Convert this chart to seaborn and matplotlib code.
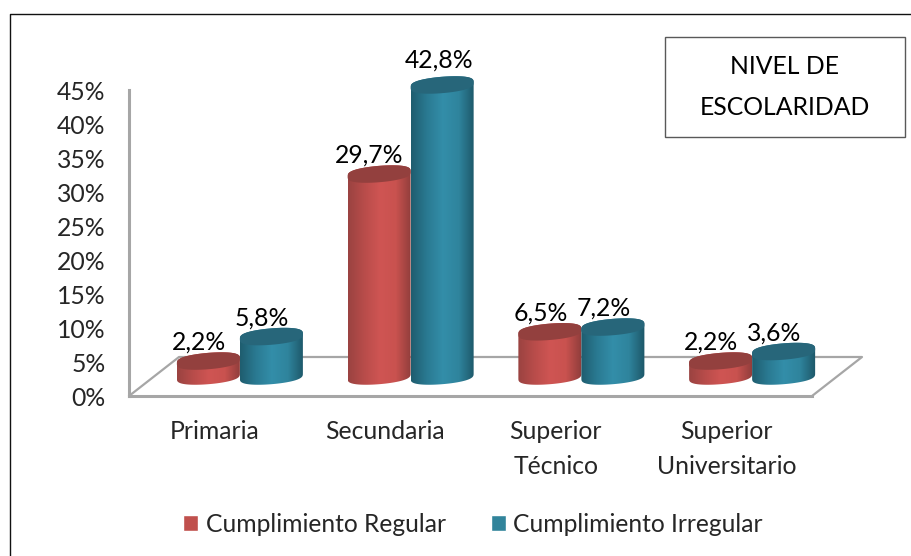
import numpy as np
import pandas as pd
import seaborn as sns
import matplotlib.pyplot as plt
from matplotlib.colors import LinearSegmentedColormap
from matplotlib.lines import Line2D
from matplotlib.patches import Polygon, Rectangle

niveles = ['Primaria', 'Secundaria', 'Superior\nTécnico', 'Superior\nUniversitario']
regular = [2.2, 29.7, 6.5, 2.2]
irregular = [5.8, 42.8, 7.2, 3.6]
series = ['Cumplimiento Regular', 'Cumplimiento Irregular']
yticks = [0, 5, 10, 15, 20, 25, 30, 35, 40, 45]

sns.set_theme(style='white')
plt.rcParams['font.family'] = ['Lato', 'DejaVu Sans']

W, H = 912, 556
PX_X = 683 / 4      # px per category
PX_Y = 306 / 45     # px per percent
GRIS = '#a6a6a6'
FS = 17.8

df = pd.DataFrame({
    'nivel': niveles * 2,
    'pct': regular + irregular,
    'serie': [series[0]] * 4 + [series[1]] * 4,
})

fig = plt.figure(figsize=(W / 100, H / 100), dpi=100)
ax = fig.add_axes([129 / W, 1 - 396 / H, 683 / W, 306 / H])
sns.barplot(df, x='nivel', y='pct', hue='serie', palette=['#c0504d', '#31849b'],
            width=0.738, gap=0, ax=ax, saturation=1)
ax.set_xlim(-0.5, 3.5)
ax.set_ylim(0, 45)
ax.set_autoscale_on(False)
ax.set_xlabel('')
ax.set_ylabel('')
ax.set_yticks(yticks)
ax.set_yticklabels([f'{t}%' for t in yticks])
ax.tick_params(axis='y', length=0, pad=17, labelsize=FS)
ax.tick_params(axis='x', length=0, pad=17.5, labelsize=FS)
for lab in ax.get_xticklabels():
    lab.set_linespacing(1.6)
for lab in ax.get_yticklabels():
    lab.set_va('center_baseline')
sns.despine(ax=ax)
for s in ['left', 'bottom']:
    ax.spines[s].set_color(GRIS)
    ax.spines[s].set_linewidth(2.2)

# floor of the 3d box
fx, fy = 50 / PX_X, 39 / PX_Y
ax.plot([-0.5, -0.5 + fx, 3.5 + fx, 3.5], [0, fy, fy, 0], color=GRIS, lw=1.6,
        clip_on=False, zorder=1)

# cylinder look, built from the seaborn bars
dx, dy = 25.5 / PX_X, 20 / PX_Y
bh, tilt = 8.2 / PX_Y, 0.08 * PX_X / PX_Y
cmaps = [
    LinearSegmentedColormap.from_list('r', ['#9a4341', '#b84c4a', '#cf5553', '#c9524f', '#8e3d3b']),
    LinearSegmentedColormap.from_list('b', ['#1f5d6f', '#2a7a92', '#338ea9', '#2f849d', '#1d5768']),
]
tapas = ['#93403e', '#27667a']
t = np.linspace(0, np.pi, 80)
curva = np.sin(t) ** 0.65   # rounder ends than a plain ellipse

z = 3
for cont, cmap, tapa in zip(ax.containers, cmaps, tapas):
    for bar in cont:
        bar.set_visible(False)
        a = bar.get_width() / 2
        cx = bar.get_x() + a + dx
        alto = bar.get_height()
        top = alto + dy
        xs = cx + a * np.cos(t)
        up = bh * curva + tilt * a * np.cos(t)
        low = -bh * curva + tilt * a * np.cos(t)
        body = np.r_[np.c_[xs[::-1], dy + low[::-1]], np.c_[xs, top + up]]
        poly = Polygon(body, closed=True, fc='none', ec='none', clip_on=False, zorder=z)
        ax.add_patch(poly)
        im = ax.imshow(np.linspace(0, 1, 128)[None, :], cmap=cmap, aspect='auto',
                       extent=[cx - a, cx + a, dy - 3, top + 3], zorder=z)
        im.set_clip_box(fig.bbox)
        im.set_clip_path(poly)
        ax.add_patch(Polygon(np.r_[np.c_[xs, top + up], np.c_[xs[::-1], top + low[::-1]]],
                             closed=True, fc=tapa, ec='none', clip_on=False, zorder=z + 0.1))
        # the tallest label sits a bit higher and closer to its bar
        ox, oy = (3, 25) if alto > 40 else (9.5, 18.5)
        ax.text(cx - ox / PX_X, top + oy / PX_Y, f'{alto:.1f}%'.replace('.', ','),
                ha='center', va='center', fontsize=FS, color='black', zorder=20, clip_on=False)
        z += 1

handles = ax.get_legend().legend_handles
ax.get_legend().remove()
fig.legend(handles, series, loc='center', bbox_to_anchor=(473 / W, 1 - 524 / H), ncol=2,
           frameon=False, fontsize=17.7, handlelength=0.6, handleheight=0.6,
           handletextpad=0.3, columnspacing=1.85)

# text box and page border
fig.add_artist(Rectangle((665 / W, 1 - 137 / H), 240 / W, 100 / H, fc='white', ec='#595959',
                         lw=1, transform=fig.transFigure))
fig.text(785 / W, 1 - 87 / H, 'NIVEL DE\nESCOLARIDAD', ha='center', va='center',
         fontsize=FS, linespacing=1.95, color='black')
fig.add_artist(Line2D([10 / W, 10 / W, 1], [0, 1 - 14 / H, 1 - 14 / H], color='#111111', lw=1))

fig.savefig('out.png', dpi=100)
